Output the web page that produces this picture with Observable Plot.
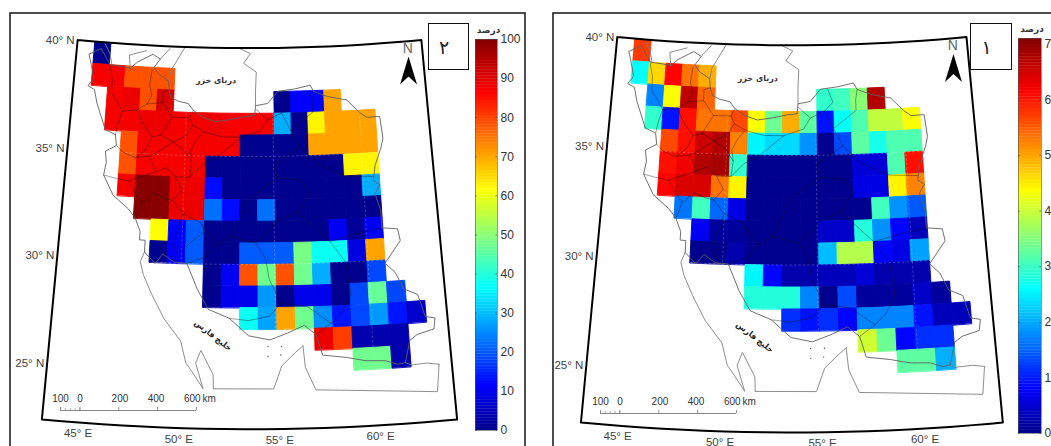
<!DOCTYPE html>
<html><head><meta charset="utf-8">
<style>
html,body{margin:0;padding:0;background:#fff;width:1051px;height:446px;overflow:hidden}
#page{position:relative;width:1051px;height:446px;overflow:hidden}
#page svg{position:absolute;background:transparent}
.box{position:absolute;box-sizing:border-box;border:1.5px solid #111;background:#fff;font:19px "DejaVu Sans";color:#222;display:flex;align-items:center;justify-content:center;padding-right:9px}
</style>
<script src="https://cdn.jsdelivr.net/npm/d3@7"></script>
<script src="https://cdn.jsdelivr.net/npm/@observablehq/plot@0.6"></script>
</head><body><div id="page"></div>
<script>
// ---------- grid: south edge of each row, first column, values per column ----------
const rowLats = [39,38,37,36,35,34,33,32,31,30,29,28,27,26,25];
const firstLon = 44.38, lonStep = 0.972;
const starts2 = [0,0,1,1,2,2,2,3,4,4,7,7,9,13,15];
const values2 = [
 [0],
 [87,87,78,78,78],
 [87,88,78,90,null,null,null,null,null,null,0,11,11,70],
 [87,87,88,88,87,87,88,87,87,87,28,0,62,70,70,70],
 [78,87,87,87,87,87,87,0,0,0,0,70,70,70,70],
 [78,87,87,87,87,0,0,0,0,0,0,0,0,62,62],
 [87,99,99,88,88,12,0,0,0,0,0,0,0,0,28],
 [99,99,88,88,22,12,0,22,0,0,0,0,0,0],
 [61,11,20,0,0,0,0,0,0,0,10,1,10],
 [0,10,20,0,0,20,20,20,48,37,37,8,70],
 [0,10,78,47,78,47,28,0,0,18],
 [0,9,9,26,0,9,9,0,18,46,18],
 [37,27,70,47,25,13,18,26,13,6],
 [88,80,3,3,3],
 [47,47,3]
];
const starts1 = [0,0,1,1,2,2,2,3,4,4,7,7,9,13,15];
const values1 = [
 [57],
 [26,46,61,53,49],
 [17,43,66,54,null,null,null,null,null,null,29,30,35,67],
 [29,9,60,53,53,56,43,33,49,32,9,26,31,39,39,43],
 [56,60,65,67,52,25,23,23,18,0,13,32,27,31,31],
 [60,62,67,68,29,0,0,0,0,0,0,5,5,31,60],
 [61,64,64,53,44,0,0,0,0,0,0,6,6,44,52],
 [16,30,15,6,0,0,0,0,0,0,0,30,18,14],
 [7,1,1,0,0,0,0,4,4,28,18,8,3],
 [0,0,2,0,0,0,0,21,38,38,8,6,19],
 [25,8,2,2,3,3,5,2,2,2],
 [28,28,28,17,0,13,1,1,1,4,1],
 [11,9,11,8,17,17,17,9,3,3],
 [40,33,8,11,11],
 [32,32,20]
];
// ---------- colour ----------
const jetStops = [0,0.11,0.36,0.61,0.86,1];
const jetColors = ["#00008f","#0000ff","#00ffff","#ffff00","#ff0000","#800000"];
// ---------- colour bars ----------
const ticks2 = [0,10,20,30,40,50,60,70,80,90,100];
const ticks1 = [0,10,20,30,40,50,60,70];
// ---------- map frame and graticule ----------
const frameW = 43.35, frameE = 63.95, frameN = 40, frameS = 22.4;
const latLabels = [40,35,30,25];
const lonLabels = [45,50,55,60];
const gridLats = [30,35];
const gridLons = [50,55,60];
// ---------- outlines, lon/lat ----------
const iran = [[44.8,39.7],[45.4,39.0],[46.2,38.95],[46.6,38.9],[47.0,39.2],[47.9,39.6],[48.35,39.4],[48.0,39.0],[48.3,38.7],[48.9,38.4],[48.95,38.0],[49.1,37.65],[49.5,37.5],[50.1,37.4],[50.4,37.1],[50.95,36.8],[51.7,36.6],[52.5,36.7],[53.4,36.85],[53.95,36.9],[54.0,37.35],[54.7,37.45],[55.3,38.0],[56.3,38.1],[57.2,38.25],[57.4,37.95],[58.2,37.7],[59.3,37.5],[60.0,36.9],[60.4,36.65],[61.15,36.65],[61.25,35.65],[61.1,35.2],[60.7,34.4],[60.55,33.7],[60.9,33.5],[60.6,33.1],[60.85,32.3],[60.85,31.5],[61.7,31.4],[61.8,30.85],[60.9,29.85],[61.4,29.4],[61.8,28.6],[62.5,28.3],[62.8,27.25],[63.3,27.15],[63.2,26.65],[62.3,26.45],[61.9,26.2],[61.6,25.2],[61.2,25.15],[60.6,25.35],[59.6,25.4],[58.6,25.6],[57.4,25.75],[57.1,26.7],[56.5,27.15],[55.6,26.8],[54.7,26.5],[53.6,26.7],[52.6,27.5],[51.5,27.9],[50.9,28.8],[50.3,30.0],[49.6,30.05],[49.0,30.4],[48.6,29.95],[48.0,30.45],[48.0,31.0],[47.7,31.0],[47.7,31.4],[47.4,32.0],[47.0,32.4],[46.1,33.0],[45.5,33.9],[45.6,34.5],[45.5,35.0],[46.1,35.3],[46.0,35.8],[45.4,36.0],[45.0,36.8],[44.8,37.2],[44.6,37.8],[44.2,37.95],[44.5,38.3],[44.3,38.9],[44.1,39.4],[44.8,39.7]];
const neighbours = [
 [[45.0,39.95],[45.35,39.5],[45.5,39.0]],
 [[46.6,38.9],[46.5,39.5],[47.5,39.75]],
 [[48.35,39.4],[48.9,39.9]],
 [[49.8,40],[49.3,39.3],[49.0,38.9],[48.9,38.4]],
 [[53.0,40],[53.7,39.75],[53.3,39.3],[54.05,38.9],[54.0,38.0],[54.0,37.35]],
 [[63.3,25.0],[62.7,25.1],[61.9,25.07],[61.6,25.2]],
 [[63.3,25.0],[63.1,23.75],[57.0,24.16],[56.5,25.2],[56.4,26.2]],
 [[56.4,26.2],[56.0,25.9],[55.3,25.3],[54.87,24.24],[51.83,24.24]],
 [[51.83,24.24],[51.8,24.9],[51.15,26.0],[50.9,25.4],[51.3,24.25]],
 [[51.3,24.25],[50.65,25.1],[50.4,25.4],[50.1,26.4],[49.2,27.4],[48.5,28.5],[48.0,29.4],[47.8,30.0],[48.0,30.45]]
];
const provinces = [
 [[45.4,38.95],[45.6,38.3],[45.6,37.7],[46.0,37.3],[46.3,36.9],[47.1,37.0],[47.7,37.3],[47.95,37.7],[47.8,38.2],[47.9,38.9]],
 [[47.7,37.3],[48.6,37.4],[48.6,37.9],[48.95,38.0]],
 [[48.6,37.4],[49.2,36.75],[50.2,36.75],[50.4,37.1]],
 [[50.2,36.75],[50.4,36.4],[51.1,36.1],[52.1,35.9],[53.2,35.9],[54.3,36.2],[54.7,36.7],[54.0,37.2]],
 [[54.7,36.7],[55.5,37.0],[56.0,37.4],[55.7,38.0]],
 [[46.3,36.9],[46.1,36.3],[46.0,35.8]],
 [[47.1,37.0],[47.6,36.3],[48.1,35.8],[48.6,35.9],[49.2,36.75]],
 [[48.1,35.8],[47.8,35.2],[47.2,34.8],[46.5,35.0],[46.1,35.3]],
 [[48.6,35.9],[49.3,35.6],[50.0,35.9],[50.4,36.4]],
 [[49.3,35.6],[48.6,35.2],[48.0,34.9],[47.2,34.8]],
 [[48.0,34.9],[48.4,34.2],[47.5,33.9],[46.9,33.7],[46.1,33.8],[45.5,33.9]],
 [[46.9,33.7],[47.2,33.3],[47.7,32.7],[47.4,32.0]],
 [[48.4,34.2],[49.0,34.4],[49.5,34.0],[49.9,33.4],[49.4,32.9],[48.9,33.0],[48.3,33.2],[47.7,32.7]],
 [[49.5,34.0],[50.3,34.0],[50.4,34.7],[50.0,35.2],[49.3,35.6]],
 [[50.3,34.0],[51.0,34.6],[51.7,34.9],[52.3,35.3],[52.9,35.7],[53.2,35.9]],
 [[50.4,34.7],[50.3,35.2],[50.6,35.7],[51.0,36.1]],
 [[49.4,32.9],[50.0,32.3],[49.8,31.6],[49.5,31.0],[49.7,30.5],[49.6,30.05]],
 [[50.0,32.3],[51.0,31.9],[51.2,31.5],[50.5,31.0],[50.0,30.6]],
 [[51.0,31.9],[51.9,30.9],[52.6,31.3],[53.0,31.9],[53.5,32.9],[54.0,33.3],[55.2,34.0],[55.0,34.6],[56.5,35.4]],
 [[50.3,30.0],[51.2,30.3],[51.9,30.9]],
 [[52.6,31.3],[54.0,31.0],[54.5,30.3],[54.7,29.3],[55.3,28.2],[54.7,27.6],[53.6,27.4],[52.6,27.5]],
 [[54.0,31.0],[55.2,32.0],[56.3,32.4],[57.0,33.3],[56.5,33.9],[55.2,34.0]],
 [[56.3,32.4],[58.0,31.0],[58.8,30.0],[59.0,28.5],[58.5,27.7],[57.9,27.2],[57.1,26.7]],
 [[55.3,28.2],[56.7,28.0],[57.9,27.2]],
 [[58.0,31.0],[59.5,31.3],[60.85,31.5]],
 [[56.5,35.4],[57.5,34.6],[59.0,34.0],[60.6,33.9]],
 [[56.5,35.4],[56.0,36.2],[55.5,37.0]],
 [[56.0,36.2],[57.3,37.0],[57.3,37.5],[57.4,37.95]]
];
const islands = [[54.6,26.2],[55.3,26.2],[54.6,25.75],[55.25,25.8]];
// ---------- labels ----------
const caspianLabel = "دریای خزر";
const gulfLabel = "خلیج فارس";
const unitLabel = "درصد";
const scaleTicks = [-100,0,200,400,600];
const scaleMinor = [-100,-75,-50,-25,0];
const scaleText = ["100","0","200","400","600","km"];
const scaleTextAt = [-100,0,206,392,578,665];

function line(c){return {type:"Feature",geometry:{type:"LineString",coordinates:c}};}
function cellsOf(starts,values){
  const out=[];
  values.forEach((vals,i)=>vals.forEach((v,j)=>{
    if(v==null) return;
    const w=firstLon+(starts[i]+j)*lonStep,e=w+lonStep,s=rowLats[i],n=s+1;
    out.push({type:"Feature",properties:{v},geometry:{type:"Polygon",coordinates:[[[w,s],[w,n],[e,n],[e,s],[w,s]]]}});
  }));
  return out;
}
const lonSpan=[];for(let l=frameW;l<frameE;l+=1)lonSpan.push(l);lonSpan.push(frameE);
const frameLine=[
  ...lonSpan.map(l=>[l,frameN]),
  [frameE,(frameN+frameS)/2],
  ...lonSpan.slice().reverse().map(l=>[l,frameS]),
  [frameW,(frameN+frameS)/2],[frameW,frameN]];
const gratLines=[
  ...gridLats.map(lat=>lonSpan.map(l=>[l,lat])),
  ...gridLons.map(lon=>[[lon,25],[lon,30],[lon,35],[lon,38]])
].map(line);
const arrow={draw(c){c.moveTo(0,-14);c.lineTo(8.5,14);c.lineTo(0,6);c.lineTo(-8.5,14);c.closePath();}};

const page=document.getElementById("page");
function place(svg,left,top){svg.style.left=left+"px";svg.style.top=top+"px";page.appendChild(svg);return svg;}
function jetScale(max){return {type:"linear",domain:jetStops.map(s=>s*max),range:jetColors,clamp:true};}

function mapPanel(cfg){
  const k=1238*cfg.zoom;
  const proj=d3.geoConicConformal().parallels([28,35]).rotate([-53.65,0]).center([0,31])
    .scale(k).translate([249*cfg.zoom+cfg.dx-cfg.left,242.4*cfg.zoom+cfg.dy]).precision(0.3);
  const cells=cellsOf(cfg.starts,cfg.values);
  const txt={fontFamily:"Liberation Sans",fill:"#3f3f3f",fontSize:11.5};
  return Plot.plot({
    width:cfg.width,height:446,margin:0,projection:proj,
    color:jetScale(cfg.max),
    marks:[
      Plot.frame({stroke:"#222",strokeWidth:1.6,insetLeft:cfg.boxL,insetTop:12.5,insetRight:cfg.boxR,insetBottom:-12}),
      Plot.geo(cells,{fill:d=>d.properties.v,stroke:d=>d.properties.v,strokeWidth:0.9}),
      Plot.geo(gratLines,{stroke:"#fff",strokeWidth:0.6,strokeDasharray:"1.5,3",strokeOpacity:0.4}),
      Plot.geo(provinces.map(line),{stroke:"#111",strokeWidth:0.6,strokeOpacity:0.65}),
      Plot.geo(neighbours.map(line),{stroke:"#808080",strokeWidth:0.9}),
      Plot.geo([line(iran)],{stroke:"#606060",strokeWidth:0.9}),
      Plot.dot(islands,{x:d=>d[0],y:d=>d[1],r:0.7,fill:"#555"}),
      Plot.geo([line(frameLine)],{stroke:"#000",strokeWidth:2}),
      Plot.text(latLabels,{x:()=>frameW,y:d=>d,text:d=>d+"° N",textAnchor:"end",dx:-3,...txt}),
      Plot.text(lonLabels,{x:d=>d,y:()=>frameS,text:d=>d+"° E",dy:11,dx:3,...txt}),
      Plot.text([caspianLabel],{x:()=>51.68,y:()=>38.5,text:d=>d,fontSize:8,fontWeight:"bold",fontFamily:"DejaVu Sans",fill:"#333"}),
      Plot.text([gulfLabel],{x:()=>51.76,y:()=>26.7,text:d=>d,fontSize:8,fontWeight:"bold",rotate:38,fontFamily:"DejaVu Sans",fill:"#222"}),
      Plot.text(["N"],{x:()=>63.1,y:()=>39.67,text:d=>d,fontSize:14,fontFamily:"Liberation Sans",fill:"#666"}),
      Plot.dot(["N"],{x:()=>63.03,y:()=>38.66,symbol:arrow,r:5,fill:"#000",stroke:"none"})
    ]
  });
}
function colorBar(cfg){
  const step=cfg.high/128, levels=d3.range(0,cfg.high,step);
  return Plot.plot({
    width:58,height:446,marginLeft:0,marginRight:cfg.right,marginTop:cfg.top,marginBottom:446-cfg.bottom,
    style:{fontFamily:"Liberation Sans",fontSize:"12px",color:"#333"},
    x:{domain:[0,1],axis:null},
    y:{domain:[0,cfg.high]},
    color:jetScale(cfg.high),
    marks:[
      Plot.rect(levels,{x1:()=>0,x2:()=>1,y1:d=>d,y2:d=>Math.min(cfg.high,d+step*1.1),fill:d=>d}),
      Plot.frame({stroke:"#555",strokeWidth:0.6}),
      Plot.ruleY(cfg.ticks,{x1:()=>0,x2:()=>0.07,stroke:"#333",strokeWidth:0.6}),
      Plot.ruleY(cfg.ticks,{x1:()=>0.93,x2:()=>1,stroke:"#333",strokeWidth:0.6}),
      Plot.axisY({anchor:"right",ticks:cfg.ticks,tickSize:0,tickPadding:3,label:null,fontSize:12,fill:"#333",tickFormat:d=>String(d)}),
      Plot.text([unitLabel],{frameAnchor:"top",dy:-13,dx:2,text:d=>d,fontSize:9,fontWeight:"bold",fontFamily:"DejaVu Sans",fill:"#333"})
    ]
  });
}
function scaleBar(cfg){
  const txt={fontFamily:"Liberation Sans",fontSize:10,fill:"#333"};
  return Plot.plot({
    width:cfg.width,height:30,marginLeft:0,marginRight:0,marginTop:0,marginBottom:0,
    x:{domain:[-100,600],range:cfg.range,axis:null},
    y:{domain:[0,30],range:[0,30],axis:null},
    marks:[
      Plot.ruleY([20],{x1:()=>-100,x2:()=>600,stroke:"#888",strokeWidth:1}),
      Plot.ruleX(scaleMinor,{y1:()=>18,y2:()=>20,stroke:"#888",strokeWidth:0.7}),
      Plot.ruleX(scaleTicks,{y1:()=>17,y2:()=>20,stroke:"#777",strokeWidth:0.8}),
      Plot.text(scaleText,{x:(d,i)=>scaleTextAt[i],y:()=>8,text:d=>d,...txt})
    ]
  });
}
place(mapPanel({starts:starts2,values:values2,max:100,zoom:1,dx:0,dy:0,left:0,width:540,boxL:9.5,boxR:15.5}),0,0);
place(mapPanel({starts:starts1,values:values1,max:71,zoom:1.016,dx:538.4,dy:-3.6,left:540,width:511,boxL:12.5,boxR:-20}),540,0);
place(colorBar({high:100,ticks:ticks2,top:39,bottom:430,right:36}),475,0).style.overflow="visible";
place(colorBar({high:71,ticks:ticks1,top:38,bottom:433,right:35}),1018,0).style.overflow="visible";
place(scaleBar({range:[60,196],width:240}),0,390);
place(scaleBar({range:[600,736],width:780}),0,393);
for(const [t,l,w] of [["۲",428,41],["۱",970,42]]){
  const b=document.createElement("div");b.className="box";b.textContent=t;
  b.style.cssText=`left:${l}px;top:23px;width:${w}px;height:47px`;page.appendChild(b);
}
</script></body></html>
